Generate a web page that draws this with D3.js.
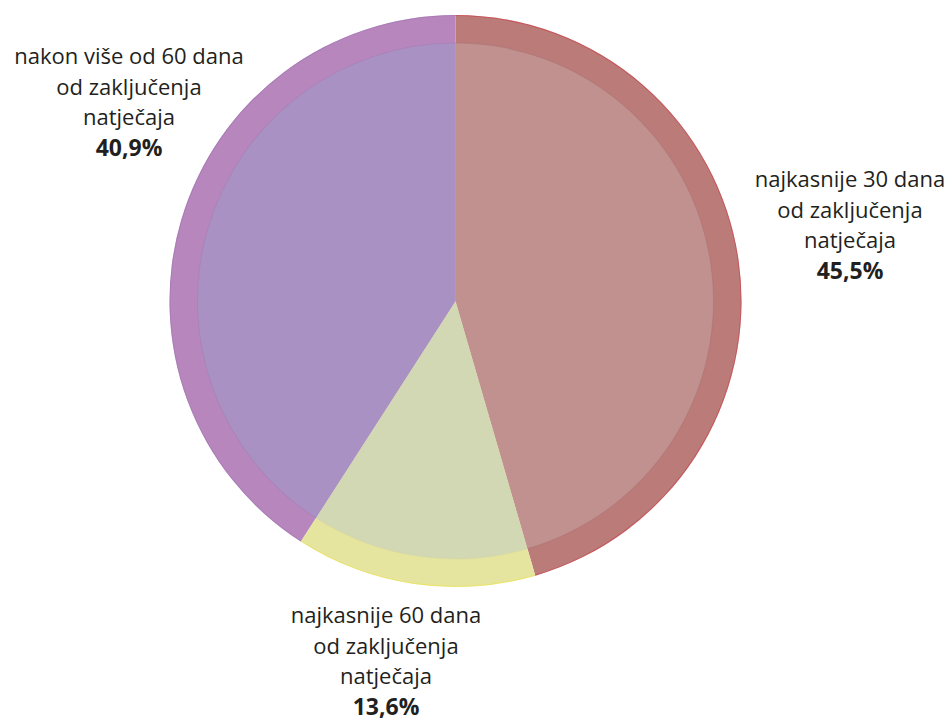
<!DOCTYPE html>
<html>
<head>
<meta charset="utf-8">
<script src="https://cdn.jsdelivr.net/npm/d3@7"></script>
<style>
  body { margin: 0; background: #fff; }
  text { font-family: "Open Sans", "Noto Sans", sans-serif; fill: #231f20; }
</style>
</head>
<body>
<div id="chart"></div>
<script>
// slices, clockwise from 12 o'clock
var categories = ["najkasnije 30 dana od zaključenja natječaja",
                  "najkasnije 60 dana od zaključenja natječaja",
                  "nakon više od 60 dana od zaključenja natječaja"];
var values     = [45.5, 13.6, 40.9];
var valueLabels = ["45,5%", "13,6%", "40,9%"];
var labelLines = [
  ["najkasnije 30 dana", "od zaključenja", "natječaja"],
  ["najkasnije 60 dana", "od zaključenja", "natječaja"],
  ["nakon više od 60 dana", "od zaključenja", "natječaja"]
];

var width = 951, height = 722,
    cx = 455.5, cy = 301,
    outerR = 286, innerR = 258;

// ring (left, right) and inner (left, right) colours + edge line
var colors = [
  {ring: ["#bb7b78", "#a46e70"], inner: ["#c19190", "#b98b8c"], edge: "#d22a3a"},
  {ring: ["#e6e5a0", "#d5d799"], inner: ["#d3d8b4", "#cdd5b1"], edge: "#f0e020"},
  {ring: ["#b786bd", "#a078b4"], inner: ["#a991c4", "#a38cc7"], edge: "#9a6fb0"}
];

// label anchor (centre x, first baseline), same order as categories
var labelPos = [[850, 187], [386, 623], [129, 64]];

var svg = d3.select("#chart").append("svg")
  .attr("width", width)
  .attr("height", height);

var defs = svg.append("defs");

colors.forEach(function(c, i) {
  ["ring", "inner"].forEach(function(k) {
    var g = defs.append("linearGradient")
      .attr("id", k + i)
      .attr("gradientUnits", "userSpaceOnUse")
      .attr("x1", cx - outerR).attr("x2", cx + outerR)
      .attr("y1", 0).attr("y2", 0);
    var left = i === 0 ? 0.5 : 0, right = i === 2 ? 0.5 : 1;
    g.append("stop").attr("offset", left).attr("stop-color", c[k][0]);
    g.append("stop").attr("offset", right).attr("stop-color", c[k][1]);
  });
});

var pie = d3.pie().sort(null).value(function(d) { return d; });
var arcs = pie(values);

var g = svg.append("g").attr("transform", "translate(" + cx + "," + cy + ")");

var ringArc  = d3.arc().innerRadius(0).outerRadius(outerR);
var innerArc = d3.arc().innerRadius(0).outerRadius(innerR);
var edgeArc  = d3.arc().innerRadius(outerR - 1).outerRadius(outerR);
var innerEdge = d3.arc().innerRadius(innerR - 0.5).outerRadius(innerR + 0.5);

g.selectAll("path.ring").data(arcs).enter().append("path")
  .attr("class", "ring")
  .attr("d", ringArc)
  .attr("fill", function(d, i) { return "url(#ring" + i + ")"; });

g.selectAll("path.edge").data(arcs).enter().append("path")
  .attr("class", "edge")
  .attr("d", edgeArc)
  .attr("fill", function(d, i) { return colors[i].edge; })
  .attr("opacity", 0.45);

g.selectAll("path.inner").data(arcs).enter().append("path")
  .attr("class", "inner")
  .attr("d", innerArc)
  .attr("fill", function(d, i) { return "url(#inner" + i + ")"; });

g.selectAll("path.iedge").data(arcs).enter().append("path")
  .attr("class", "iedge")
  .attr("d", innerEdge)
  .attr("fill", function(d, i) { return colors[i].ring[1]; })
  .attr("opacity", 0.4);

// labels
labelLines.forEach(function(lines, i) {
  var t = svg.append("text")
    .attr("text-anchor", "middle")
    .attr("font-size", 22);
  lines.concat([valueLabels[i]]).forEach(function(s, j) {
    t.append("tspan")
      .attr("x", labelPos[i][0])
      .attr("y", labelPos[i][1] + j * 30.5)
      .attr("font-weight", j === 3 ? "bold" : null)
      .attr("font-size", j === 3 ? 23 : null)
      .text(s);
  });
});
</script>
</body>
</html>
